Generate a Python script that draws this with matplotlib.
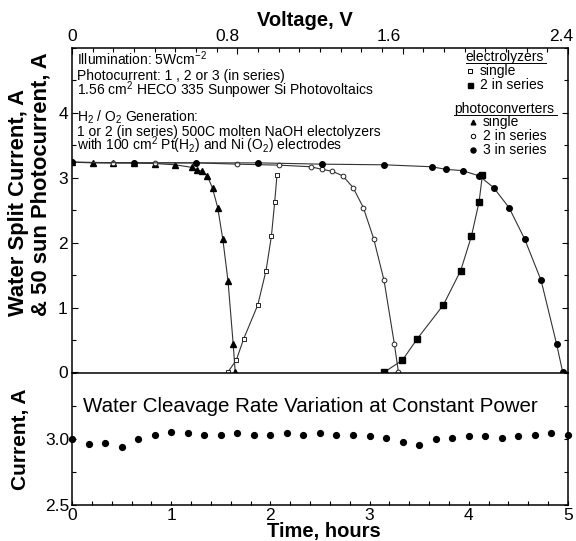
import matplotlib.pyplot as plt
from matplotlib.ticker import MultipleLocator, FormatStrFormatter
from matplotlib.transforms import ScaledTranslation

plt.rcParams['font.family'] = 'Liberation Sans'
plt.rcParams['mathtext.fontset'] = 'custom'
plt.rcParams['mathtext.rm'] = 'Liberation Sans'
plt.rcParams['mathtext.it'] = 'Liberation Sans:italic'
plt.rcParams['mathtext.bf'] = 'Liberation Sans:bold'

# photoconverter I-V curves (voltage V, current A)
pv1_v = [0.00, 0.10, 0.20, 0.30, 0.40, 0.50, 0.58, 0.605, 0.63, 0.655, 0.68, 0.705, 0.73, 0.755, 0.78, 0.79]
pv1_i = [3.24, 3.23, 3.23, 3.23, 3.22, 3.20, 3.16, 3.12, 3.10, 3.03, 2.84, 2.54, 2.05, 1.41, 0.44, 0.0]
pv2_v = [0.00, 0.20, 0.40, 0.60, 0.80, 1.00, 1.155, 1.21, 1.26, 1.31, 1.36, 1.41, 1.46, 1.51, 1.56, 1.58]
pv2_i = [3.24, 3.23, 3.23, 3.23, 3.21, 3.195, 3.17, 3.13, 3.10, 3.03, 2.85, 2.54, 2.06, 1.42, 0.44, 0.0]
pv3_v = [0.00, 0.30, 0.60, 0.90, 1.21, 1.51, 1.74, 1.81, 1.89, 1.97, 2.04, 2.115, 2.19, 2.27, 2.345, 2.375]
pv3_i = [3.24, 3.23, 3.23, 3.23, 3.21, 3.20, 3.17, 3.13, 3.11, 3.03, 2.85, 2.54, 2.06, 1.42, 0.44, 0.0]

# electrolyzer curves
el1_v = [0.753, 0.795, 0.831, 0.899, 0.939, 0.965, 0.981, 0.992]
el1_i = [0.0, 0.19, 0.52, 1.04, 1.57, 2.10, 2.63, 3.04]
el2_v = [1.509, 1.599, 1.671, 1.797, 1.881, 1.933, 1.970, 1.986]
el2_i = [0.0, 0.19, 0.52, 1.04, 1.57, 2.10, 2.63, 3.04]

# constant power run
minutes = [0, 10, 20, 30, 40, 50, 60, 70, 80, 90, 100, 110, 120, 130, 140, 150,
           160, 170, 180, 190, 200, 210, 220, 230, 240, 250, 260, 270, 280, 290, 300]
run_current = [2.995, 2.962, 2.965, 2.937, 2.995, 3.027, 3.05, 3.045, 3.027, 3.027, 3.04,
               3.027, 3.027, 3.04, 3.027, 3.045, 3.027, 3.027, 3.02, 3.008, 2.975, 2.952,
               2.995, 3.008, 3.02, 3.02, 3.008, 3.02, 3.027, 3.04, 3.027]
hours = [m / 60 for m in minutes]

volt_ticks = [0, 0.8, 1.6, 2.4]
volt_labels = ['0', '0.8', '1.6', '2.4']

fig = plt.figure(figsize=(5.76, 5.41), dpi=100)
fig.patch.set_facecolor('white')
ax = fig.add_axes([0.125, 0.3115, 0.861, 0.5998])
ax2 = fig.add_axes([0.125, 0.0665, 0.861, 0.2449])

lc = '#333333'
lw = 0.8
ax.plot(pv1_v, pv1_i, color=lc, lw=lw, marker='^', ms=3.8, mfc='k', mec='k')
ax.plot(pv2_v, pv2_i, color=lc, lw=lw, marker='o', ms=3.4, mfc='white', mec='#222222', mew=0.7)
ax.plot(pv3_v, pv3_i, color=lc, lw=lw, marker='o', ms=4, mfc='k', mec='k')
ax.plot(el1_v, el1_i, color=lc, lw=lw, marker='s', ms=3.4, mfc='white', mec='#222222', mew=0.7)
ax.plot(el2_v, el2_i, color=lc, lw=lw, marker='s', ms=3.8, mfc='k', mec='k')

ax.set_xlim(0, 2.4)
ax.set_ylim(0, 5)
ax.xaxis.tick_top()
ax.set_xticks(volt_ticks, volt_labels)
ax.xaxis.set_minor_locator(MultipleLocator(0.1))
ax.set_yticks([0, 1, 2, 3, 4])
ax.yaxis.set_minor_locator(MultipleLocator(0.5))
ax.tick_params(which='both', direction='in', top=True, bottom=False, left=True, right=True,
               labelsize=12.5, pad=3)
ax.tick_params(which='major', length=4, width=0.8)
ax.tick_params(which='minor', length=3, width=0.8)
ax.spines['bottom'].set_visible(False)
for s in ['top', 'left', 'right']:
    ax.spines[s].set_linewidth(1.1)

# the voltage labels sit a little left of their ticks in the original
shifts = [0, -10, -14, -7]
for tick, dx in zip(ax.xaxis.get_major_ticks(), shifts):
    lab = tick.label2
    lab.set_transform(lab.get_transform() + ScaledTranslation(dx / 100, 0, fig.dpi_scale_trans))

# notes
fs = 10
notes = [
    (0.948, 'Illumination: 5Wcm$^{-2}$'),
    (0.901, 'Photocurrent: 1 , 2 or 3 (in series)'),
    (0.856, '1.56 cm$^2$ HECO 335 Sunpower Si Photovoltaics'),
    (0.772, 'H$_2$ / O$_2$ Generation:'),
    (0.730, '1 or 2 (in series) 500C molten NaOH electolyzers'),
    (0.685, 'with 100 cm$^2$ Pt(H$_2$) and Ni (O$_2$) electrodes'),
]
for y, t in notes:
    ax.text(0.011, y, t, transform=ax.transAxes, fontsize=fs, va='baseline', ha='left')

# legend blocks
ax.text(0.794, 0.971, 'electrolyzers', transform=ax.transAxes, fontsize=fs, va='center')
ax.plot([0.794, 0.956], [0.953, 0.953], transform=ax.transAxes, color='k', lw=0.7)
ax.plot([0.802], [0.929], transform=ax.transAxes, marker='s', ms=3.2, mfc='white', mec='k', mew=0.7, ls='none')
ax.text(0.822, 0.929, 'single', transform=ax.transAxes, fontsize=fs, va='center')
ax.plot([0.802], [0.886], transform=ax.transAxes, marker='s', ms=3.6, mfc='k', mec='k', ls='none')
ax.text(0.822, 0.886, '2 in series', transform=ax.transAxes, fontsize=fs, va='center')

ax.text(0.770, 0.811, 'photoconverters', transform=ax.transAxes, fontsize=fs, va='center')
ax.plot([0.770, 0.978], [0.795, 0.795], transform=ax.transAxes, color='k', lw=0.7)
ax.plot([0.809], [0.773], transform=ax.transAxes, marker='^', ms=3.4, mfc='k', mec='k', ls='none')
ax.text(0.828, 0.773, 'single', transform=ax.transAxes, fontsize=fs, va='center')
ax.plot([0.809], [0.729], transform=ax.transAxes, marker='o', ms=3.2, mfc='white', mec='k', mew=0.7, ls='none')
ax.text(0.828, 0.729, '2 in series', transform=ax.transAxes, fontsize=fs, va='center')
ax.plot([0.809], [0.685], transform=ax.transAxes, marker='o', ms=3.6, mfc='k', mec='k', ls='none')
ax.text(0.828, 0.685, '3 in series', transform=ax.transAxes, fontsize=fs, va='center')

# lower panel
ax2.plot(hours, run_current, 'o', color='k', ms=4.2, clip_on=False, zorder=3)
ax2.set_xlim(0, 5)
ax2.set_ylim(2.5, 3.5)
ax2.set_yticks([2.5, 3.0])
ax2.yaxis.set_minor_locator(MultipleLocator(0.25))
ax2.yaxis.set_major_formatter(FormatStrFormatter('%.1f'))
ax2.xaxis.set_major_locator(MultipleLocator(1))
ax2.xaxis.set_minor_locator(MultipleLocator(0.2))
ax2.tick_params(which='both', direction='in', top=False, right=True, labelsize=12.5, pad=2)
ax2.tick_params(which='major', length=3, width=0.8)
ax2.tick_params(which='minor', length=3, width=0.8)
for s in ax2.spines.values():
    s.set_linewidth(1.1)
ax2.text(0.022, 0.741, 'Water Cleavage Rate Variation at Constant Power',
         transform=ax2.transAxes, fontsize=14.8, va='center', ha='left')

# axis titles
fig.text(305 / 576, 1 - 21 / 541, 'Voltage, V', fontsize=14.5, fontweight='bold', ha='center', va='center')
fig.text(324 / 576, 1 - 531 / 541, 'Time, hours', fontsize=14.5, fontweight='bold', ha='center', va='center')
fig.text(19 / 576, 1 - 316 / 541, 'Water Split Current, A', fontsize=15.8, fontweight='bold',
         rotation=90, ha='center', va='bottom')
fig.text(41 / 576, 1 - 316 / 541, '& 50 sun Photocurrent, A', fontsize=15.8, fontweight='bold',
         rotation=90, ha='center', va='bottom')
fig.text(21 / 576, 1 - 439 / 541, 'Current, A', fontsize=15, fontweight='bold',
         rotation=90, ha='center', va='center')

fig.savefig('out.png', dpi=100)
